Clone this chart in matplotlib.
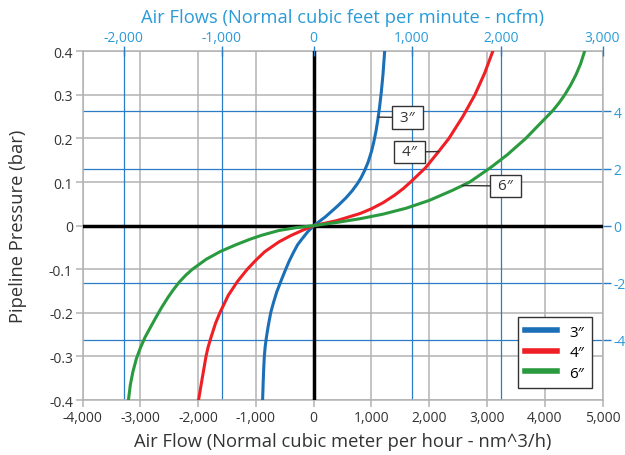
import numpy as np
import matplotlib.pyplot as plt

plt.rcParams['font.family'] = ['Open Sans', 'DejaVu Sans']

# ------------------------------------------------------------------ data
# pipeline pressure (bar) against air flow (nm^3/h)
Q_3 = [-885, -875, -865, -855, -840, -820, -790, -745, -700, -640, -570,
       -485, -420, -345, -280, -200, -100, 0, 200, 405, 560, 666, 760, 820,
       880, 940, 1000, 1040, 1080, 1110, 1140, 1170, 1200, 1228]
P_3 = [-0.4, -0.36, -0.325, -0.3, -0.277, -0.257, -0.232, -0.2, -0.178,
       -0.152, -0.128, -0.1, -0.08, -0.06, -0.044, -0.03, -0.0135, 0.0,
       0.02, 0.044, 0.064, 0.08, 0.097, 0.11, 0.126, 0.145, 0.17, 0.192,
       0.218, 0.243, 0.272, 0.306, 0.348, 0.4]
Q_4 = [-1994, -1930, -1865, -1830, -1780, -1700, -1625, -1480, -1320,
       -1150, -1000, -850, -600, -400, -200, 0, 400, 806, 1000, 1200, 1400,
       1550, 1677, 1937, 2163, 2340, 2580, 2790, 2960, 3100]
P_4 = [-0.4, -0.35, -0.3, -0.2795, -0.257, -0.224, -0.2, -0.16, -0.128,
       -0.1, -0.079, -0.06, -0.037, -0.023, -0.011, 0.0, 0.0116, 0.028,
       0.0388, 0.0526, 0.0698, 0.085, 0.1, 0.133, 0.17, 0.2, 0.25, 0.3,
       0.35, 0.4]
Q_6 = [-3208, -3175, -3130, -3070, -3000, -2920, -2830, -2730, -2630, -2530,
       -2430, -2325, -2210, -2100, -1860, -1612, -1350, -1100, -900, -600,
       -300, 0, 400, 806, 1200, 1600, 2000, 2400, 2700, 3060, 3350, 3670,
       3900, 4140, 4250, 4350, 4450, 4540, 4620, 4690]
P_6 = [-0.4, -0.365, -0.335, -0.305, -0.28, -0.256, -0.234, -0.21, -0.187,
       -0.166, -0.147, -0.129, -0.113, -0.1, -0.077, -0.059, -0.044, -0.031,
       -0.022, -0.011, -0.0045, 0.0, 0.0074, 0.016, 0.0264, 0.04, 0.0579,
       0.0809, 0.1, 0.133, 0.1625, 0.2, 0.2314, 0.264, 0.282, 0.301, 0.323,
       0.346, 0.371, 0.4]
SERIES = [("3\u2033", Q_3, P_3), ("4\u2033", Q_4, P_4), ("6\u2033", Q_6, P_6)]

X_TICKS = [-4000, -3000, -2000, -1000, 0, 1000, 2000, 3000, 4000, 5000]
Y_TICKS = [-0.4, -0.3, -0.2, -0.1, 0.0, 0.1, 0.2, 0.3, 0.4]
# secondary scales, placed where the chart puts them
CFM_POS = [-3290, -1590, 0, 1694, 3237, 5000]
CFM_LAB = ["-2,000", "-1,000", "0", "1,000", "2,000", "3,000"]
PSI_POS = [0.262, 0.131, 0.0, -0.131, -0.262]
PSI_LAB = ["4", "2", "0", "-2", "-4"]
# callouts: pressure where the leader meets the curve, and box centre
CALLOUT_P = {"3\u2033": 0.249, "4\u2033": 0.170, "6\u2033": 0.092}
CALLOUT_TXT = {"3\u2033": (1625, 0.248), "4\u2033": (1660, 0.169),
               "6\u2033": (3324, 0.091)}

COLORS = ["#1b6fb6", "#ee2025", "#2a9a3f"]
GRID_BLUE = "#2a7cc6"
LABEL_BLUE = "#2b9bd8"
GREY = "#b3b3b3"
TXT = "#333333"

fig = plt.figure(figsize=(6.25, 4.56), dpi=100)
ax = fig.add_axes([0.1323, 0.1206, 0.8317, 0.7647])
ax.set_xlim(-4000, 5000)
ax.set_ylim(-0.4, 0.4)

for x in X_TICKS:
    ax.axvline(x, color=GREY, lw=1.1, zorder=1)
for y in Y_TICKS:
    ax.axhline(y, color=GREY, lw=1.1, zorder=1)
for x in CFM_POS[:-1]:
    if x != 0:
        ax.axvline(x, color=GRID_BLUE, lw=0.9, zorder=2)
for y in PSI_POS:
    if y != 0:
        ax.axhline(y, color=GRID_BLUE, lw=0.9, zorder=2)
ax.axvline(0, color="black", lw=2.5, zorder=3)
ax.axhline(0, color="black", lw=2.5, zorder=3)

for (lab, q, p), c in zip(SERIES, COLORS):
    ax.plot(q, p, color=c, lw=2.2, label=lab, zorder=4,
            solid_joinstyle="round")
    py = CALLOUT_P[lab]
    qx = np.interp(py, p, q)
    ax.annotate(" " + lab + " ", xy=(qx, py), xytext=CALLOUT_TXT[lab],
                ha="center", va="center", fontsize=11, color=TXT, zorder=6,
                bbox=dict(boxstyle="square,pad=0.25", fc="white",
                          ec="#333333", lw=1),
                arrowprops=dict(arrowstyle="-", color="#333333", lw=1,
                                shrinkA=0, shrinkB=0))

ax.set_xticks(X_TICKS)
ax.set_xticklabels([f"{v:,}" for v in X_TICKS])
ax.set_yticks(Y_TICKS)
ax.set_yticklabels(["0" if v == 0 else f"{v:.1f}" for v in Y_TICKS])
ax.tick_params(labelsize=10, colors=GREY, labelcolor=TXT, length=5,
               width=1.1, pad=2)
for s in ax.spines.values():
    s.set_color(GREY)
    s.set_linewidth(1.1)
ax.set_xlabel("Air Flow (Normal cubic meter per hour - nm^3/h)",
              fontsize=13.2, color=TXT, labelpad=5)
ax.set_ylabel("Pipeline Pressure (bar)", fontsize=13.2, color=TXT,
              labelpad=16)

leg = ax.legend(loc="lower right", bbox_to_anchor=(0.98, 0.034),
                borderaxespad=0, fontsize=11, handlelength=2.1,
                handleheight=0.9, handletextpad=0.8, borderpad=0.5,
                labelspacing=0.3, fancybox=False, framealpha=1,
                edgecolor="#333333")
leg.get_frame().set_linewidth(1)
for h in leg.get_lines():
    h.set_linewidth(4)
leg.set_zorder(7)

top = ax.twiny()
top.set_xlim(ax.get_xlim())
top.set_xticks(CFM_POS)
top.set_xticklabels(CFM_LAB)
top.tick_params(labelsize=10, colors=GRID_BLUE, labelcolor=LABEL_BLUE,
                direction="inout", length=7, width=1, pad=1)
top.set_xlabel("Air Flows (Normal cubic feet per minute - ncfm)",
               fontsize=13.2, color=LABEL_BLUE, labelpad=6)
for s in top.spines.values():
    s.set_visible(False)

right = ax.twinx()
right.set_ylim(ax.get_ylim())
right.set_yticks(PSI_POS)
right.set_yticklabels(PSI_LAB)
right.tick_params(labelsize=10, colors=GRID_BLUE, labelcolor=LABEL_BLUE,
                  length=6, width=1, pad=2)
for s in right.spines.values():
    s.set_visible(False)

fig.savefig("out.png", dpi=100)
